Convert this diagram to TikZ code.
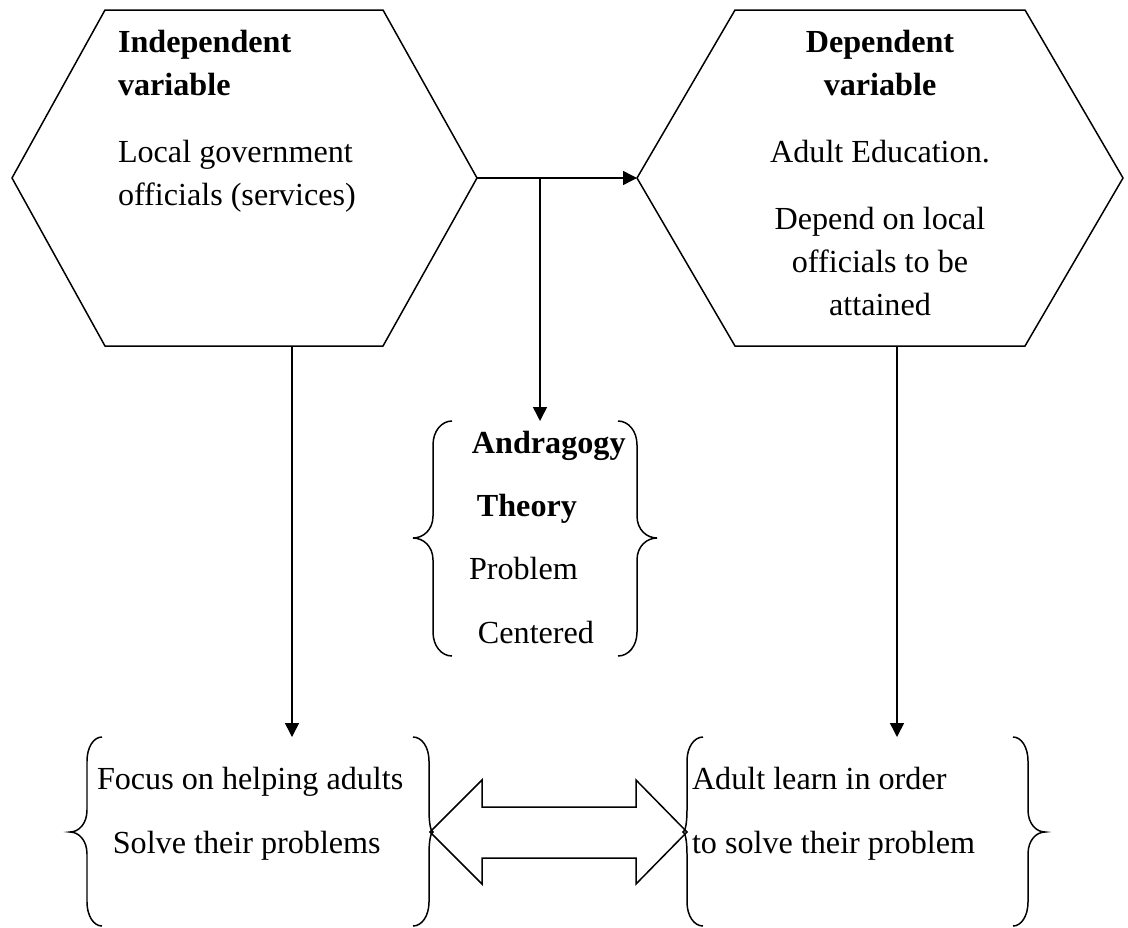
\documentclass[tikz,border=0pt]{standalone}
\usepackage{fontspec}
\setmainfont{Liberation Serif}
\usetikzlibrary{arrows.meta, positioning}

\tikzset{
  line/.style={line width=0.85pt},
  flow/.style={line, -{Triangle[length=0.28cm, width=0.28cm]}},
  lbl/.style={inner sep=0pt, outer sep=0pt, anchor=base west, align=left,
    font=\fontsize{18.3}{24.2}\selectfont},
  clbl/.style={lbl, anchor=base, align=center},
  wide/.style={font=\fontsize{18.3}{35.9}\selectfont},
}

% line x, tip dx, end dx, top, mid, bottom
\newcommand{\curly}[6]{%
  \draw[line] (#1+#3,#4) .. controls (#1+0.45*#3,#4) and (#1,#4+10) .. (#1,#4+24) -- (#1,#5-22)
    .. controls (#1,#5-8) and (#1+0.5*#2,#5) .. (#1+#2,#5)
    .. controls (#1+0.5*#2,#5) and (#1,#5+8) .. (#1,#5+22)
    -- (#1,#6-24) .. controls (#1,#6-10) and (#1+0.45*#3,#6) .. (#1+#3,#6);}

\begin{document}
\begin{tikzpicture}[x=0.02cm, y=-0.02cm]
    \useasboundingbox (0,0) rectangle (1128,927);

    % hexagons
    \draw[line] (12,178) -- (105,10) -- (383,10) -- (477,178) -- (383,346) -- (105,346) -- cycle;
    \draw[line] (637,178) -- (735,10) -- (1025,10) -- (1123,178) -- (1025,346) -- (735,346) -- cycle;
    \coordinate (ivE) at (477,178);
    \coordinate (ivS) at (292,346);
    \coordinate (dvW) at (637,178);
    \coordinate (dvS) at (897,346);
    \coordinate (split) at (540,178);

    \node[lbl, font=\fontsize{18.3}{24.2}\selectfont\bfseries] (ivTitle) at (118,95) {Independent\\variable};
    \node[lbl] (ivText) at (118,205) {Local government\\officials (services)};
    \node[clbl, font=\fontsize{18.3}{24.2}\selectfont\bfseries] (dvTitle) at (880,95) {Dependent\\variable};
    \node[clbl] (dvText) at (880,162) {Adult Education.};
    \node[clbl] (dvMore) at (880,315) {Depend on local\\officials to be\\attained};

    % theory
    \curly{433}{-20}{19}{421}{538}{656}
    \curly{637}{20}{-19}{421}{538}{656}
    \coordinate (thTop) at (540,421);
    \node[lbl, wide] (theory) at (469,643)
      {\hspace*{1.7pt}\textbf{Andragogy}\\\hspace*{4.5pt}\textbf{Theory}\\Problem\\\hspace*{5.1pt}Centered};

    % outcomes
    \curly{87}{-17}{15}{737}{832}{926}
    \curly{429}{4}{-16}{737}{832}{926}
    \curly{687}{-4}{16}{737}{832}{926}
    \curly{1028}{17}{-15}{737}{832}{926}
    \coordinate (focusTop) at (292,737);
    \coordinate (learnTop) at (897,737);
    \node[lbl, wide] (focus) at (97,853) {Focus on helping adults\\\hspace*{9pt}Solve their problems};
    \node[lbl, wide] (learn) at (692,853) {Adult learn in order\\to solve their problem};

    \draw[flow] (ivE) -- (dvW);
    \draw[flow] (split) -- (thTop);
    \draw[flow] (ivS) -- (focusTop);
    \draw[flow] (dvS) -- (learnTop);

    \coordinate (linkL) at (430,832);
    \coordinate (linkR) at (687,832);
    \draw[line] (linkL) -- (482,780) -- (482,807) -- (636,807) -- (636,780) -- (linkR)
      -- (636,884) -- (636,858) -- (482,858) -- (482,884) -- cycle;
\end{tikzpicture}
\end{document}
